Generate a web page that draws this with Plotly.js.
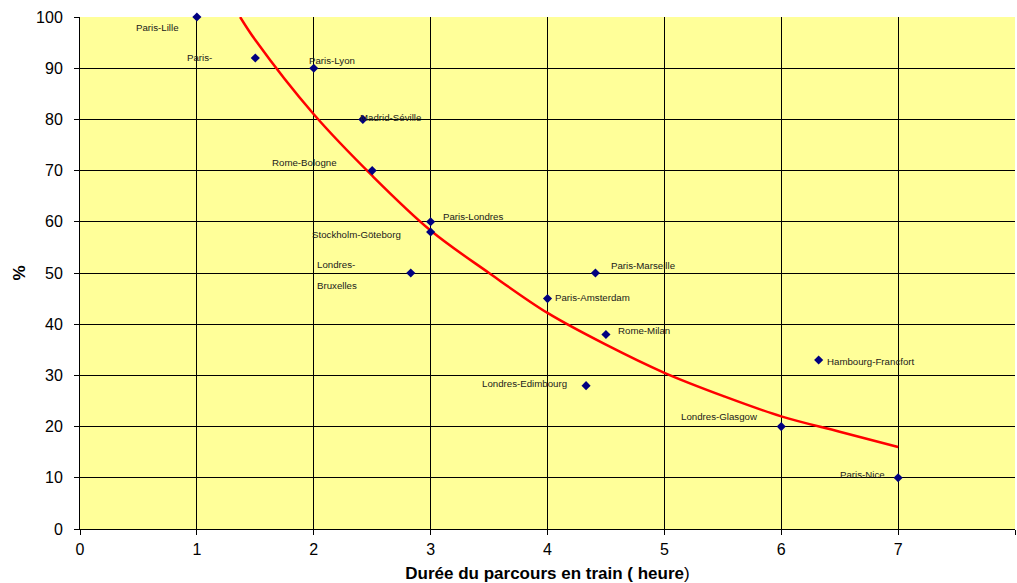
<!DOCTYPE html>
<html>
<head>
<meta charset="utf-8">
<script src="https://cdn.plot.ly/plotly-3.0.1.min.js"></script>
<style>
  html, body { margin: 0; padding: 0; background: #ffffff; }
  #chart { width: 1017px; height: 583px; }
</style>
</head>
<body>
<div id="chart"></div>
<script>
// Liaisons ferroviaires : durée du trajet en train (heures) et part de marché du train (%)
const routes = [
  "Paris-Lille", "Paris-", "Paris-Lyon", "Madrid-Séville", "Rome-Bologne",
  "Paris-Londres", "Stockholm-Göteborg", "Londres-Bruxelles", "Paris-Marseille",
  "Paris-Amsterdam", "Rome-Milan", "Londres-Edimbourg", "Hambourg-Francfort",
  "Londres-Glasgow", "Paris-Nice"
];
const hours = [1, 1.5, 2, 2.42, 2.5, 3, 3, 2.83, 4.41, 4, 4.5, 4.33, 6.32, 6, 7];
const share = [100, 92, 90, 80, 70, 60, 58, 50, 50, 45, 38, 28, 33, 20, 10];

// Courbe de tendance
const trendHours = [1.37, 1.5, 2, 2.5, 3, 3.5, 4, 4.5, 5, 5.5, 6, 6.5, 7];
const trendShare = [100, 95.5, 81, 69, 58.3, 50, 42.2, 36, 30.5, 26, 22, 19, 16];

const xTicks = [0, 1, 2, 3, 4, 5, 6, 7, 8];
const yTicks = [0, 10, 20, 30, 40, 50, 60, 70, 80, 90, 100];

// Placement des étiquettes autour de chaque point (ancrage, décalage en px)
const labelPlacement = {
  "Paris-Lille":        { anchor: "right", dx: -16, dy: -10 },
  "Paris-":             { anchor: "right", dx: -41, dy: 0 },
  "Paris-Lyon":         { anchor: "left",  dx: -7,  dy: 8 },
  "Madrid-Séville":     { anchor: "left",  dx: -5,  dy: 2 },
  "Rome-Bologne":       { anchor: "right", dx: -33, dy: 8 },
  "Paris-Londres":      { anchor: "left",  dx: 10,  dy: 5 },
  "Stockholm-Göteborg": { anchor: "right", dx: -28, dy: -2 },
  "Paris-Marseille":    { anchor: "left",  dx: 14,  dy: 8 },
  "Paris-Amsterdam":    { anchor: "left",  dx: 5,   dy: 1 },
  "Rome-Milan":         { anchor: "left",  dx: 10,  dy: 4 },
  "Londres-Edimbourg":  { anchor: "right", dx: -17, dy: 2 },
  "Hambourg-Francfort": { anchor: "left",  dx: 6,   dy: -1 },
  "Londres-Glasgow":    { anchor: "right", dx: -21, dy: 10 },
  "Paris-Nice":         { anchor: "right", dx: -11, dy: 3 }
};

const labelFont = { family: "Liberation Sans, Arial, sans-serif", size: 9.7, color: "#1a1a1a" };
const annotations = [];
routes.forEach((name, i) => {
  if (name === "Londres-Bruxelles") {
    // étiquette sur deux lignes, largement espacées
    const parts = ["Londres-", "Bruxelles"];
    const dys = [9, -12];
    parts.forEach((p, k) => {
      annotations.push({
        x: hours[i], y: share[i], xref: "x", yref: "y", text: p, showarrow: false,
        xanchor: "left", yanchor: "middle", xshift: -96, yshift: dys[k], font: labelFont
      });
    });
    return;
  }
  const pl = labelPlacement[name];
  annotations.push({
    x: hours[i], y: share[i], xref: "x", yref: "y", text: name, showarrow: false,
    xanchor: pl.anchor, yanchor: "middle", xshift: pl.dx, yshift: pl.dy, font: labelFont
  });
});

const traces = [
  {
    x: trendHours, y: trendShare, type: "scatter", mode: "lines",
    line: { color: "#ff0000", width: 2.5, shape: "spline" },
    hoverinfo: "skip"
  },
  {
    x: hours, y: share, type: "scatter", mode: "markers", text: routes,
    marker: { symbol: "diamond", size: 7, color: "#000080" },
    cliponaxis: false
  }
];

const tickFont = { family: "Liberation Sans, Arial, sans-serif", size: 16, color: "#000000" };
const titleFont = { family: "Liberation Sans, Arial, sans-serif", size: 17, color: "#000000" };

const layout = {
  width: 1017, height: 583,
  margin: { l: 80, r: 2, t: 17, b: 54 },
  paper_bgcolor: "#ffffff",
  plot_bgcolor: "#ffff99",
  showlegend: false,
  font: tickFont,
  xaxis: {
    range: [0, 8], tickvals: xTicks, ticktext: xTicks.map(String),
    showgrid: true, gridcolor: "#000000", gridwidth: 1,
    showline: true, linecolor: "#000000", linewidth: 1,
    ticks: "outside", ticklen: 5, tickcolor: "#000000", tickfont: tickFont,
    ticklabelstandoff: 1,
    zeroline: false, automargin: false,
    title: { text: "<b>Durée du parcours en train ( heure</b>)", font: titleFont, standoff: 9 }
  },
  yaxis: {
    range: [0, 100], tickvals: yTicks, ticktext: yTicks.map(String),
    showgrid: true, gridcolor: "#000000", gridwidth: 1,
    showline: true, linecolor: "#000000", linewidth: 1,
    ticks: "outside", ticklen: 5, tickcolor: "#000000", tickfont: tickFont,
    ticklabelstandoff: 8,
    zeroline: false, automargin: false,
    title: { text: "<b>%</b>", font: titleFont, standoff: 6 }
  },
  annotations: annotations
};

Plotly.newPlot("chart", traces, layout, { displayModeBar: false, staticPlot: true });
</script>
</body>
</html>
